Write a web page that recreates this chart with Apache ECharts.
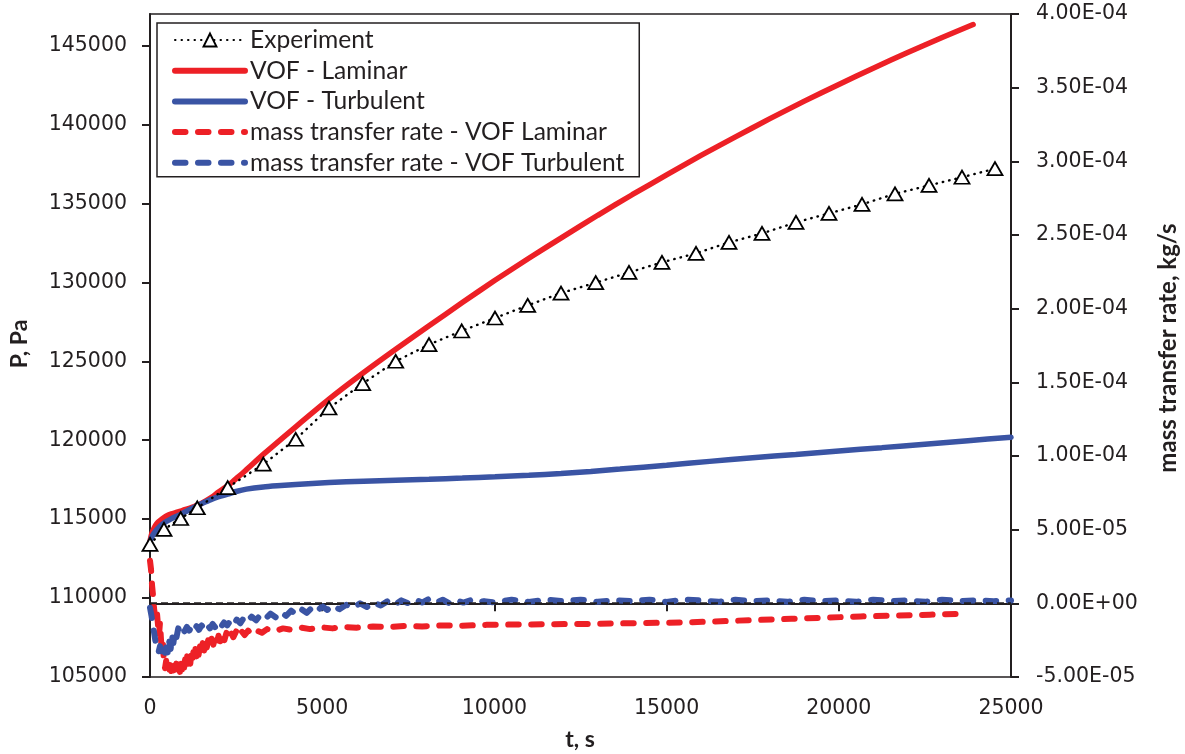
<!DOCTYPE html>
<html>
<head>
<meta charset="utf-8">
<script src="https://cdn.jsdelivr.net/npm/echarts@6/dist/echarts.min.js"></script>
<style>
html,body{margin:0;padding:0;background:#fff;}
#chart{width:1185px;height:754px;}
</style>
</head>
<body>
<div id="chart"></div>
<script>
// ---- data ----
const xTicks = [0, 5000, 10000, 15000, 20000, 25000];
const leftTicks = [105000, 110000, 115000, 120000, 125000, 130000, 135000, 140000, 145000];

const expT = [0,406,891,1373,2256,3290,4231,5197,6175,7134,8101,9050,10017,10967,11934,12942,13908,14866,15854,16812,17770,18757,19715,20674,21632,22619,23577,24535];
const expP = [113400,114350,115040,115720,117000,118480,120060,122040,123590,125000,126060,126920,127740,128540,129320,129980,130630,131270,131840,132530,133100,133800,134370,134940,135610,136140,136660,137200];

const lamT = [0,40,90,160,232,350,465,620,784,950,1161,1300,1452,1620,1800,1980,2178,2323,2450,2758,3290,4231,5197,6176,7134,8101,9068,10017,11000,12000,13000,14000,15000,16000,17000,18000,19000,20000,21000,22000,23000,23900];
const lamP = [113600,114000,114300,114600,114800,115020,115190,115330,115440,115560,115700,115820,115950,116150,116400,116700,117000,117230,117470,118050,119100,120850,122600,124240,125760,127250,128720,130130,131530,132900,134250,135550,136810,138040,139220,140370,141480,142540,143570,144560,145510,146330];

const turT = [0,60,150,250,406,600,891,1100,1373,1600,1800,2000,2256,2500,2800,3290,3800,4231,5197,6200,7134,8100,9068,10017,11000,11934,12800,13647,15000,16250,17500,18750,20000,21250,22500,23750,25000];
const turP = [113560,113900,114200,114450,114750,115000,115300,115550,115850,116080,116270,116420,116580,116750,116900,117040,117130,117200,117320,117400,117470,117530,117600,117680,117780,117890,118020,118170,118420,118660,118890,119100,119320,119530,119750,119970,120190];

// mass transfer rate, VOF Laminar: [t, kg/s]
const massLam = [[0,2.9e-5],[30,2.3e-5],[60,1.2e-5],[90,5e-6],[120,-4e-6],[145,-8e-6],[175,-1.1e-5],[200,-6e-6],[230,-1.4e-5],[260,-2.2e-5],[290,-1.3e-5],[320,-2.5e-5],[350,-3.2e-5],[377,-2.8e-5],[400,-3.8e-5],[436,-4.4e-5],[470,-3.9e-5],[500,-4.6e-5],[530,-4.2e-5],[560,-4.5e-5],[590,-3.9e-5],[620,-4.6e-5],[650,-4.3e-5],[680,-4.7e-5],[710,-4.1e-5],[740,-4.5e-5],[770,-4.0e-5],[800,-4.6e-5],[830,-4.2e-5],[871,-4.7e-5],[900,-4.0e-5],[930,-4.5e-5],[960,-3.9e-5],[990,-4.4e-5],[1020,-3.8e-5],[1050,-4.3e-5],[1080,-3.6e-5],[1110,-4.2e-5],[1140,-3.7e-5],[1170,-4.1e-5],[1200,-3.4e-5],[1230,-3.9e-5],[1260,-3.3e-5],[1290,-3.8e-5],[1320,-3.1e-5],[1350,-3.6e-5],[1380,-3.0e-5],[1410,-3.5e-5],[1452,-2.9e-5],[1490,-3.3e-5],[1530,-2.7e-5],[1570,-3.2e-5],[1610,-2.6e-5],[1650,-3.0e-5],[1690,-2.5e-5],[1742,-2.9e-5],[1790,-2.4e-5],[1840,-2.8e-5],[1890,-2.3e-5],[1940,-2.7e-5],[1990,-2.2e-5],[2040,-2.6e-5],[2100,-2.1e-5],[2160,-2.5e-5],[2220,-2.0e-5],[2280,-2.4e-5],[2350,-2.0e-5],[2420,-2.3e-5],[2500,-1.9e-5],[2580,-2.25e-5],[2660,-1.9e-5],[2750,-2.15e-5],[2850,-1.85e-5],[2950,-2.1e-5],[3098,-1.85e-5],[3250,-2.0e-5],[3400,-1.75e-5],[3600,-1.9e-5],[3862,-1.7e-5],[4100,-1.8e-5],[4400,-1.65e-5],[4650,-1.75e-5],[4936,-1.62e-5],[5300,-1.7e-5],[5600,-1.6e-5],[6000,-1.65e-5],[6475,-1.57e-5],[7000,-1.6e-5],[7400,-1.53e-5],[7900,-1.57e-5],[8420,-1.5e-5],[9000,-1.52e-5],[9776,-1.46e-5],[11000,-1.43e-5],[12602,-1.40e-5],[14000,-1.35e-5],[15610,-1.29e-5],[17000,-1.18e-5],[18624,-1.05e-5],[20633,-8.9e-6],[22648,-7.7e-6],[23751,-7.0e-6]];

// mass transfer rate, VOF Turbulent: [t, kg/s]
const massTur = [[0,-3e-6],[40,-8e-6],[80,-1.4e-5],[120,-2.0e-5],[160,-2.6e-5],[200,-3.1e-5],[250,-3.3e-5],[290,-2.9e-5],[330,-3.4e-5],[377,-3.2e-5],[420,-3.5e-5],[470,-3.0e-5],[520,-3.4e-5],[560,-2.6e-5],[600,-3.1e-5],[640,-2.2e-5],[680,-2.7e-5],[720,-1.9e-5],[770,-2.3e-5],[820,-1.7e-5],[880,-2.0e-5],[940,-1.7e-5],[1000,-1.9e-5],[1070,-1.6e-5],[1140,-1.85e-5],[1210,-1.6e-5],[1280,-1.85e-5],[1350,-1.55e-5],[1420,-1.8e-5],[1500,-1.5e-5],[1580,-1.75e-5],[1660,-1.45e-5],[1740,-1.7e-5],[1820,-1.4e-5],[1900,-1.65e-5],[1980,-1.35e-5],[2060,-1.6e-5],[2150,-1.3e-5],[2240,-1.5e-5],[2330,-1.2e-5],[2420,-1.45e-5],[2520,-1.1e-5],[2620,-1.35e-5],[2720,-1.0e-5],[2820,-1.25e-5],[2950,-9e-6],[3080,-1.15e-5],[3200,-8e-6],[3350,-1.05e-5],[3500,-7e-6],[3650,-9.5e-6],[3800,-6e-6],[3950,-8.5e-6],[4100,-5e-6],[4250,-7.5e-6],[4400,-4e-6],[4550,-6.5e-6],[4700,-3e-6],[4850,-5.5e-6],[5000,-2e-6],[5150,-4.5e-6],[5300,-1.5e-6],[5500,-4e-6],[5700,-1e-6],[5900,-3e-6],[6100,0],[6300,-2.5e-6],[6500,0.5e-6],[6700,-1.5e-6],[6900,1.5e-6],[7100,-1e-6],[7300,2e-6],[7500,0],[7700,2.5e-6],[7900,0.5e-6],[8100,3e-6],[8300,0.5e-6],[8500,2.5e-6],[8700,0],[8900,2e-6],[9100,0.5e-6],[9300,2e-6],[9500,0.5e-6],[9700,1.5e-6],[10000,0.5e-6],[10500,2.5e-6],[11000,1e-6],[11500,2.5e-6],[12000,1.5e-6],[12500,2.5e-6],[13000,1e-6],[13500,2e-6],[14000,1.5e-6],[14500,2.5e-6],[15000,1e-6],[15500,2.5e-6],[16000,2e-6],[16500,1e-6],[17000,2.5e-6],[17500,1.5e-6],[18000,2e-6],[18500,1e-6],[19000,2.5e-6],[19500,1.5e-6],[20000,2e-6],[20500,1e-6],[21000,2.5e-6],[21500,1.5e-6],[22000,2e-6],[22500,1e-6],[23000,2.5e-6],[23500,1.5e-6],[24000,2e-6],[24500,1.5e-6],[25000,2e-6]];

const zeroLine = [[0, 0], [25000, 0]];

const seriesNames = ['Experiment','VOF - Laminar','VOF - Turbulent','mass transfer rate - VOF Laminar','mass transfer rate - VOF Turbulent'];

// ---- helpers ----
const zip = (a, b) => a.map((v, i) => [v, b[i]]);
const INK = '#231f20';
const RED = '#ed2026';
const BLUE = '#3a54a4';
const TICKFONT = 'DejaVu Sans';
const TITLEFONT = 'Lato';
const DASH = [10.5, 12.5];

function sci(v) {
  if (Math.abs(v) < 1e-12) return '0.00E+00';
  const s = v.toExponential(2);
  const parts = s.split('e');
  const sign = parts[1][0];
  const d = parts[1].slice(1).padStart(2, '0');
  return parts[0] + 'E' + sign + d;
}
const plain = v => String(Math.round(v));

const chart = echarts.init(document.getElementById('chart'), null, {renderer: 'canvas'});
const labelStyle = {fontFamily: TICKFONT, fontSize: 20.5, color: INK};

const legendData = [
  {name: seriesNames[0]},
  {name: seriesNames[1], itemStyle: {opacity: 0}, lineStyle: {width: 6, color: RED, cap: 'round'}},
  {name: seriesNames[2], itemStyle: {opacity: 0}, lineStyle: {width: 6, color: BLUE, cap: 'round'}},
  {name: seriesNames[3], itemStyle: {opacity: 0}, lineStyle: {width: 6, color: RED, type: DASH, cap: 'round'}},
  {name: seriesNames[4], itemStyle: {opacity: 0}, lineStyle: {width: 6, color: BLUE, type: DASH, cap: 'round'}}
];

const option = {
  animation: false,
  backgroundColor: '#fff',
  grid: {left: 150, right: 174, top: 14, bottom: 77, show: true, borderColor: INK, borderWidth: 1.5, backgroundColor: 'transparent'},
  legend: {
    data: legendData,
    orient: 'vertical',
    left: 157, top: 23,
    padding: [4, 15, 1, 15],
    itemWidth: 70, itemHeight: 16, itemGap: 4.7,
    backgroundColor: '#fff',
    borderColor: INK, borderWidth: 1.5, borderRadius: 0,
    textStyle: {fontFamily: TITLEFONT, fontSize: 24.6, color: INK, lineHeight: 26},
    selectedMode: false
  },
  xAxis: {
    type: 'value', min: 0, max: 25000, interval: 5000,
    axisLine: {show: true, lineStyle: {color: INK, width: 2}},
    axisTick: {show: true, length: 8, lineStyle: {color: INK, width: 2}},
    splitLine: {show: false},
    axisLabel: Object.assign({margin: 21, formatter: plain}, labelStyle)
  },
  yAxis: [
    {
      type: 'value', min: 105000, max: 147000, interval: 5000, position: 'left',
      axisLine: {show: true, lineStyle: {color: INK, width: 2}},
      axisTick: {show: true, length: 8, lineStyle: {color: INK, width: 2}, customValues: leftTicks},
      splitLine: {show: false},
      axisLabel: Object.assign({margin: 23, customValues: leftTicks, formatter: plain}, labelStyle)
    },
    {
      type: 'value', min: -5e-5, max: 4e-4, interval: 5e-5, position: 'right',
      axisLine: {show: true, lineStyle: {color: INK, width: 2}},
      axisTick: {show: true, length: 8, lineStyle: {color: INK, width: 2}},
      splitLine: {show: false},
      axisLabel: Object.assign({margin: 25, formatter: sci}, labelStyle)
    }
  ],
  graphic: [
    {type: 'text', x: 20, y: 344, rotation: Math.PI / 2,
     style: {text: 'P, Pa', fontFamily: TITLEFONT, fontWeight: 'bold', fontSize: 23, fill: INK, textAlign: 'center', textVerticalAlign: 'middle'}},
    {type: 'text', x: 1168, y: 348, rotation: Math.PI / 2,
     style: {text: 'mass transfer rate, kg/s', fontFamily: TITLEFONT, fontWeight: 'bold', fontSize: 24, fill: INK, textAlign: 'center', textVerticalAlign: 'middle'}},
    {type: 'text', x: 580, y: 740,
     style: {text: 't, s', fontFamily: TITLEFONT, fontWeight: 'bold', fontSize: 23, fill: INK, textAlign: 'center', textVerticalAlign: 'middle'}}
  ],
  series: [
    {
      name: seriesNames[1], type: 'line', yAxisIndex: 0, data: zip(lamT, lamP),
      symbol: 'none', smooth: 0.25,
      lineStyle: {color: RED, width: 5.5, cap: 'round'}, itemStyle: {color: RED}, z: 3
    },
    {
      name: seriesNames[2], type: 'line', yAxisIndex: 0, data: zip(turT, turP),
      symbol: 'none', smooth: 0.25,
      lineStyle: {color: BLUE, width: 5.5, cap: 'round'}, itemStyle: {color: BLUE}, z: 4
    },
    {
      name: seriesNames[3], type: 'line', yAxisIndex: 1, data: massLam,
      symbol: 'none',
      lineStyle: {color: RED, width: 6, type: DASH, cap: 'round', join: 'round'}, itemStyle: {color: RED}, z: 2
    },
    {
      name: seriesNames[4], type: 'line', yAxisIndex: 1, data: massTur,
      symbol: 'none',
      lineStyle: {color: BLUE, width: 6, type: DASH, cap: 'round', join: 'round'}, itemStyle: {color: BLUE}, z: 2.5
    },
    {
      name: 'zero', type: 'line', yAxisIndex: 1, data: zeroLine,
      symbol: 'none', silent: true,
      lineStyle: {color: INK, width: 2, type: [7, 4]}, z: 6
    },
    {
      name: seriesNames[0], type: 'line', yAxisIndex: 0, data: zip(expT, expP),
      symbol: 'triangle', symbolSize: [15, 13], showAllSymbol: true,
      lineStyle: {color: '#000', width: 2.4, type: [0.5, 6], cap: 'round'},
      itemStyle: {color: '#fff', borderColor: '#000', borderWidth: 1.8}, z: 10
    }
  ]
};
chart.setOption(option);
</script>
</body>
</html>
